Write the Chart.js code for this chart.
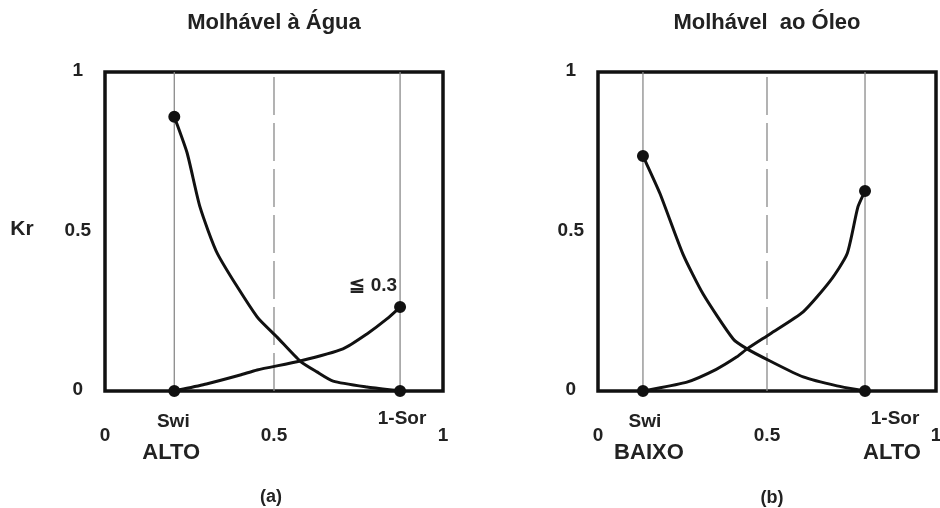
<!DOCTYPE html>
<html>
<head>
<meta charset="utf-8">
<title>Kr - molhabilidade</title>
<script src="https://cdn.jsdelivr.net/npm/chart.js@4.4.1/dist/chart.umd.min.js"></script>
<style>
  body { margin: 0; background: #fff; }
  #wrap { position: relative; width: 940px; height: 508px; }
  canvas { position: absolute; top: 0; }
</style>
</head>
<body>
<div id="wrap">
  <canvas id="chartA" width="470" height="508" style="left:0"></canvas>
  <canvas id="chartB" width="470" height="508" style="left:470px"></canvas>
</div>
<script>
// tick values shared by both panels
let xTicks = [0, 0.5, 1];
let yTicks = [0, 0.5, 1];

// (a) Molhável à Água
let swiA = 0.205, sorA = 0.873;
let kroAx = [0.205, 0.243, 0.281, 0.333, 0.45, 0.509, 0.577, 0.627, 0.675, 0.775, 0.873];
let kroAy = [0.86, 0.746, 0.577, 0.43, 0.232, 0.169, 0.094, 0.06, 0.031, 0.0125, 0];
let krwAx = [0.205, 0.3, 0.4, 0.45, 0.577, 0.704, 0.775, 0.834, 0.873];
let krwAy = [0, 0.022, 0.05, 0.066, 0.094, 0.132, 0.179, 0.226, 0.263];

// (b) Molhável ao Óleo
let swiB = 0.133, sorB = 0.79;
let kroBx = [0.133, 0.183, 0.251, 0.311, 0.4, 0.441, 0.509, 0.607, 0.707, 0.79];
let kroBy = [0.737, 0.62, 0.43, 0.304, 0.163, 0.132, 0.094, 0.044, 0.016, 0];
let krwBx = [0.133, 0.263, 0.35, 0.411, 0.441, 0.509, 0.607, 0.687, 0.737, 0.769, 0.79];
let krwBy = [0, 0.028, 0.068, 0.107, 0.132, 0.179, 0.248, 0.345, 0.43, 0.577, 0.627];

Chart.defaults.font.family = "'Liberation Sans', Arial, sans-serif";
Chart.defaults.color = '#222';

let pts = (xs, ys) => xs.map((v, i) => ({ x: v, y: ys[i] }));

// frame + free text labels
let notesPlugin = {
  id: 'notes',
  beforeDatasetsDraw(chart) {
    let a = chart.chartArea, ctx = chart.ctx;
    ctx.save();
    ctx.lineWidth = 3.5;
    ctx.strokeStyle = '#111';
    ctx.strokeRect(a.left, a.top, a.right - a.left, a.bottom - a.top);
    ctx.restore();
  },
  afterDraw(chart, args, opts) {
    let ctx = chart.ctx, x = chart.scales.x, y = chart.scales.y;
    ctx.save();
    ctx.fillStyle = '#222';
    ctx.textBaseline = 'middle';
    opts.items.forEach(it => {
      let px = it.vx !== undefined ? x.getPixelForValue(it.vx) : it.px;
      let py = it.vy !== undefined ? y.getPixelForValue(it.vy) : it.py;
      ctx.font = it.font;
      ctx.textAlign = it.align || 'center';
      ctx.fillText(it.text, px + (it.dx || 0), py + (it.dy || 0));
    });
    ctx.restore();
  }
};

function curve(data) {
  let n = data.length;
  return {
    data: data,
    showLine: true,
    borderColor: '#111',
    backgroundColor: '#111',
    borderWidth: 3,
    tension: 0.2,
    pointRadius: c => (c.dataIndex === 0 || c.dataIndex === n - 1) ? 4.5 : 0,
    clip: false,
    order: 0
  };
}

function refLine(xv, dash) {
  return {
    data: [{ x: xv, y: 0 }, { x: xv, y: 1 }],
    showLine: true,
    borderColor: '#8a8a8a',
    borderWidth: 1.3,
    borderDash: dash,
    pointRadius: 0,
    order: 1
  };
}

function makeChart(id, title, swi, sor, kro, krw, items, padL, padR) {
  return new Chart(document.getElementById(id), {
    type: 'scatter',
    data: {
      datasets: [
        curve(kro),
        curve(krw),
        refLine(swi, []),
        refLine(0.5, [38, 8]),
        refLine(sor, [])
      ]
    },
    options: {
      responsive: false,
      animation: false,
      layout: { autoPadding: false, padding: { left: padL, right: padR, top: 0, bottom: 0 } },
      plugins: {
        legend: { display: false },
        tooltip: { enabled: false },
        title: {
          display: true,
          text: title,
          fullSize: false,
          font: { size: 22, weight: 'bold' },
          color: '#222',
          padding: { top: 10, bottom: 35.6 }
        },
        notes: { items: items }
      },
      scales: {
        x: {
          type: 'linear',
          min: 0, max: 1,
          afterBuildTicks: s => { s.ticks = xTicks.map(v => ({ value: v })); },
          afterFit: s => { s.height = 117; s.paddingLeft = 0; s.paddingRight = 0; },
          grid: { display: false },
          border: { display: false },
          ticks: { padding: 25, font: { size: 19, weight: 'bold' }, maxRotation: 0, callback: v => String(v) }
        },
        y: {
          type: 'linear',
          min: 0, max: 1,
          afterBuildTicks: s => { s.ticks = yTicks.map(v => ({ value: v })); },
          afterFit: s => { s.width = 60; s.paddingTop = 0; s.paddingBottom = 0; },
          grid: { display: false },
          border: { display: false },
          ticks: { padding: 6, crossAlign: 'center', labelOffset: -1, font: { size: 19, weight: 'bold' }, callback: v => String(v) }
        }
      }
    },
    plugins: [notesPlugin]
  });
}

let small = "bold 19px 'Liberation Sans', Arial, sans-serif";
let big = "bold 22px 'Liberation Sans', Arial, sans-serif";
let cap = "bold 18px 'Liberation Sans', Arial, sans-serif";

makeChart('chartA', 'Molhável à Água', swiA, sorA, pts(kroAx, kroAy), pts(krwAx, krwAy), [
  { text: 'Kr', px: 22, py: 229, font: "bold 21px 'Liberation Sans', Arial, sans-serif" },
  { text: 'Swi', vx: swiA, dx: -1, py: 422, font: small },
  { text: '1-Sor', vx: sorA, dx: 2, py: 419, font: small },
  { text: 'ALTO', vx: swiA, dx: -3, py: 453, font: big },
  { text: '(a)', px: 271, py: 497, font: cap },
  { text: '≦ 0.3', vx: sorA, dx: -3, py: 286, align: 'right', font: small }
], 45, 27);

makeChart('chartB', 'Molhável  ao Óleo', swiB, sorB, pts(kroBx, kroBy), pts(krwBx, krwBy), [
  { text: 'Swi', vx: swiB, dx: 2, py: 422, font: small },
  { text: '1-Sor', vx: sorB, dx: 30, py: 419, font: small },
  { text: 'BAIXO', vx: swiB, dx: 6, py: 453, font: big },
  { text: 'ALTO', vx: sorB, dx: 27, py: 453, font: big },
  { text: '(b)', px: 302, py: 498, font: cap }
], 68, 4);
</script>
</body>
</html>
